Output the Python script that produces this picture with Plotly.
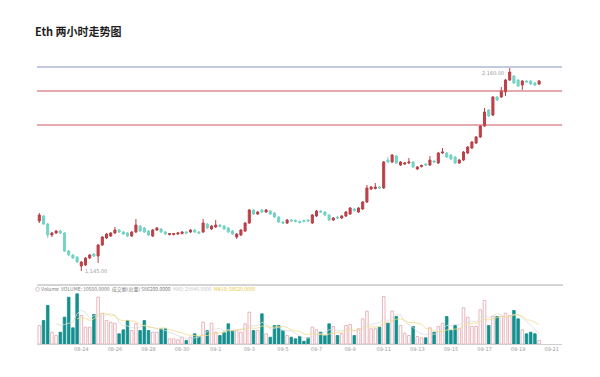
import plotly.graph_objects as go

# ---------------- data ----------------
opens = [1395, 1420, 1380, 1325, 1335, 1345, 1335, 1245, 1225, 1215,
         1170, 1175, 1210, 1230, 1220, 1275, 1310, 1320, 1335, 1350,
         1340, 1335, 1320, 1340, 1370, 1360, 1345, 1320, 1350, 1355,
         1340, 1327.5, 1327.5, 1330, 1332.5, 1340, 1340, 1350, 1340, 1340,
         1380, 1355, 1365, 1375, 1370, 1360, 1345, 1315, 1325, 1345,
         1385, 1450, 1430, 1450, 1440, 1445, 1435, 1415, 1390, 1385,
         1400, 1397.5, 1392.5, 1397.5, 1400, 1385, 1420, 1445, 1440, 1425,
         1400, 1415, 1410, 1420, 1430, 1455, 1440, 1455, 1490, 1555,
         1557.5, 1565, 1560, 1700, 1690, 1720, 1675, 1680, 1685, 1690,
         1655, 1667.5, 1680, 1675, 1695, 1685, 1735, 1735, 1725, 1715,
         1685, 1700, 1735, 1760, 1785, 1815, 1870, 1950, 1925, 2015,
         2015, 2040, 2100, 2120, 2100, 2075, 2095, 2095, 2085, 2080]
closes = [1425, 1380, 1325, 1335, 1345, 1335, 1245, 1225, 1210, 1190,
          1190, 1210, 1225, 1220, 1275, 1315, 1330, 1335, 1350, 1340,
          1330, 1320, 1340, 1375, 1345, 1340, 1325, 1350, 1360, 1340,
          1330, 1332.5, 1332.5, 1335, 1340, 1335, 1350, 1340, 1335, 1385,
          1360, 1370, 1375, 1367.5, 1355, 1340, 1330, 1330, 1350, 1385,
          1450, 1430, 1440, 1440, 1450, 1430, 1415, 1390, 1385, 1400,
          1395, 1392.5, 1387.5, 1392.5, 1395, 1425, 1445, 1440, 1425, 1400,
          1410, 1410, 1420, 1440, 1460, 1447.5, 1460, 1490, 1560, 1565,
          1565, 1560, 1690, 1690, 1725, 1685, 1690, 1685, 1690, 1665,
          1665, 1672.5, 1675, 1700, 1690, 1735, 1740, 1715, 1705, 1685,
          1700, 1740, 1765, 1790, 1815, 1870, 1940, 1920, 2015, 2000,
          2045, 2100, 2140, 2085, 2070, 2095, 2090, 2080, 2075, 2095]
highs = [1435, 1425, 1385, 1340, 1350, 1350, 1340, 1250, 1230, 1220,
         1195, 1215, 1230, 1235, 1280, 1320, 1335, 1340, 1365, 1355,
         1345, 1340, 1345, 1405, 1375, 1365, 1350, 1355, 1365, 1360,
         1345, 1335, 1335, 1340, 1345, 1345, 1355, 1355, 1345, 1405,
         1385, 1375, 1400, 1380, 1375, 1365, 1350, 1335, 1355, 1390,
         1455, 1455, 1445, 1455, 1455, 1450, 1440, 1420, 1395, 1405,
         1405, 1402.5, 1397.5, 1402.5, 1405, 1430, 1450, 1450, 1445, 1430,
         1415, 1420, 1425, 1445, 1465, 1460, 1465, 1495, 1575, 1570,
         1585, 1570, 1695, 1715, 1730, 1725, 1695, 1690, 1710, 1695,
         1670, 1677.5, 1685, 1720, 1700, 1740, 1760, 1740, 1730, 1720,
         1705, 1745, 1770, 1795, 1820, 1875, 1960, 1955, 2020, 2020,
         2065, 2105, 2160, 2125, 2105, 2100, 2100, 2100, 2090, 2100]
lows = [1385, 1375, 1310, 1315, 1330, 1330, 1240, 1220, 1205, 1185,
        1145, 1170, 1205, 1215, 1185, 1270, 1305, 1315, 1330, 1335,
        1325, 1315, 1315, 1335, 1340, 1335, 1320, 1315, 1345, 1335,
        1325, 1322.5, 1322.5, 1325, 1327.5, 1330, 1335, 1335, 1330, 1335,
        1355, 1350, 1360, 1362.5, 1350, 1335, 1325, 1305, 1320, 1340,
        1380, 1425, 1425, 1435, 1435, 1425, 1410, 1385, 1380, 1380,
        1390, 1387.5, 1382.5, 1387.5, 1390, 1380, 1415, 1435, 1420, 1395,
        1395, 1405, 1405, 1415, 1425, 1442.5, 1435, 1450, 1485, 1550,
        1552.5, 1555, 1555, 1685, 1685, 1680, 1670, 1675, 1680, 1660,
        1650, 1662.5, 1670, 1670, 1685, 1680, 1730, 1710, 1700, 1680,
        1680, 1695, 1730, 1755, 1780, 1810, 1865, 1915, 1920, 1995,
        2010, 2020, 2095, 2080, 2065, 2050, 2085, 2075, 2070, 2075]
volumes = [55500, 70500, 115500, 35400, 25500, 35400, 80400, 140400, 48600, 150600,
           85500, 50400, 50400, 88500, 140400, 91500, 70500, 65400, 62400, 30600,
           42600, 70500, 40500, 60600, 40500, 70500, 40500, 35400, 35400, 45600,
           45600, 15600, 15600, 12600, 20400, 10500, 20400, 30600, 22500, 65400,
           40500, 62400, 35400, 25500, 35400, 60600, 40500, 40500, 35400, 60600,
           95400, 40500, 40500, 90600, 30600, 20400, 55500, 55500, 40500, 25500,
           20400, 15600, 22500, 8400, 18600, 50400, 42600, 35400, 25500, 60600,
           52500, 25500, 30600, 55500, 58500, 25500, 45600, 75600, 98400, 45600,
           45600, 50400, 142500, 62400, 98400, 82500, 55500, 32400, 25500, 52500,
           22500, 18600, 18600, 48600, 35400, 52500, 62400, 82500, 40500, 55500,
           45600, 108600, 80400, 52500, 52500, 102600, 130500, 55500, 82500, 82500,
           82500, 92400, 85500, 100500, 75600, 42600, 30600, 35400, 30600, 10500]
level_lines = [2165, 2045, 1875]
tick_labels = ["08-24", "08-26", "08-28", "08-30", "09-1", "09-3", "09-5", "09-7",
               "09-9", "09-11", "09-13", "09-15", "09-17", "09-19", "09-21"]

UP = "#bb4048"
DOWN = "#74d3c4"
VOL_UP = "#e3a4ad"
VOL_DOWN = "#15908f"

n = len(opens)
xs = list(range(n))
tick_pos = [10 + 8 * k for k in range(len(tick_labels))]


def moving_avg(vals, w):
    out = []
    for i in range(len(vals)):
        if i < w - 1:
            out.append(None)
        else:
            out.append(sum(vals[i - w + 1:i + 1]) / w)
    return out


ma5 = moving_avg(volumes, 5)
ma10 = moving_avg(volumes, 10)
is_up = [c >= o for o, c in zip(opens, closes)]

fig = go.Figure()
fig.add_trace(go.Candlestick(
    x=xs, open=opens, high=highs, low=lows, close=closes,
    increasing=dict(line=dict(color=UP, width=1), fillcolor=UP),
    decreasing=dict(line=dict(color=DOWN, width=1), fillcolor=DOWN),
    xaxis="x", yaxis="y", showlegend=False, hoverinfo="skip"))

fig.add_trace(go.Bar(
    x=xs, y=volumes, width=0.62,
    marker=dict(color=["#ffffff" if u else VOL_DOWN for u in is_up],
                line=dict(color=[VOL_UP if u else VOL_DOWN for u in is_up], width=0.8)),
    xaxis="x", yaxis="y2", showlegend=False, hoverinfo="skip"))
fig.add_trace(go.Scatter(x=xs, y=ma5, mode="lines", line=dict(color="#dcdcdc", width=0.8),
                         xaxis="x", yaxis="y2", showlegend=False, hoverinfo="skip"))
fig.add_trace(go.Scatter(x=xs, y=ma10, mode="lines", line=dict(color="#f3dc8a", width=0.8),
                         xaxis="x", yaxis="y2", showlegend=False, hoverinfo="skip"))

H = 377.0
shapes = []
line_colors = ["#8793c6", "#cc5563", "#cc5563"]
for lv, col in zip(level_lines, line_colors):
    shapes.append(dict(type="line", xref="paper", x0=0, x1=1, yref="y", y0=lv, y1=lv,
                       line=dict(color=col, width=1)))
# volume pane top border
shapes.append(dict(type="line", xref="paper", x0=0, x1=1.002, yref="paper",
                   y0=1 - 285 / H, y1=1 - 285 / H, line=dict(color="#aaaaaa", width=1)))

low_i = lows.index(min(lows))
high_i = highs.index(max(highs))
annotations = [
    dict(x=low_i, y=min(lows), xref="x", yref="y", text=f"{min(lows):,.2f}",
         showarrow=False, xanchor="left", yanchor="middle", xshift=2,
         font=dict(size=5, color="#9a9a9a", family="DejaVu Sans")),
    dict(x=high_i, y=max(highs), xref="x", yref="y", text=f"{max(highs):,.2f}",
         showarrow=False, xanchor="right", yanchor="top", xshift=-4, yshift=0,
         font=dict(size=5, color="#9a9a9a", family="DejaVu Sans")),
    dict(x=-0.008, y=1 - 289 / H, xref="paper", yref="paper", xanchor="left", yanchor="middle",
         showarrow=False,
         text=(f"◎ Volume  VOLUME: {volumes[-1]:.4f}  成交额(总量) {sum(volumes[-10:]) * 1.0:.4f}"
               f"  <span style='color:#c8c8c8'>MA5: {ma5[-1]:.4f}</span>"
               f"  <span style='color:#e8c840'>MA10: {ma10[-1]:.4f}</span>"),
         font=dict(size=5, color="#808080", family="Noto Sans CJK SC")),
]

fig.update_layout(
    width=600, height=377,
    margin=dict(l=37, r=38, t=0, b=0),
    paper_bgcolor="white", plot_bgcolor="white",
    title=dict(text="<b>Eth 两小时走势图</b>", x=35 / 600, xanchor="left",
               y=1 - 32 / H, yanchor="middle",
               font=dict(size=11, color="#1e1e1e", family="Noto Sans CJK SC")),
    xaxis=dict(range=[-0.55, 124.45], anchor="y2", rangeslider=dict(visible=False),
               showgrid=False, zeroline=False, showline=True, linecolor="#cfcfcf", linewidth=1,
               tickvals=tick_pos, ticktext=tick_labels, ticks="",
               tickfont=dict(size=5, color="#9a9a9a", family="DejaVu Sans")),
    yaxis=dict(domain=[1 - 280 / H, 1 - 55 / H], range=[1100, 2225], visible=False,
               showgrid=False, zeroline=False),
    yaxis2=dict(domain=[1 - 344 / H, 1 - 285 / H], range=[0, 177000], visible=False,
                showgrid=False, zeroline=False),
    shapes=shapes, annotations=annotations,
    bargap=0.3,
)

fig.write_html("out.html", config={"displayModeBar": False, "staticPlot": True},
               post_script="document.body.style.margin='0';")
